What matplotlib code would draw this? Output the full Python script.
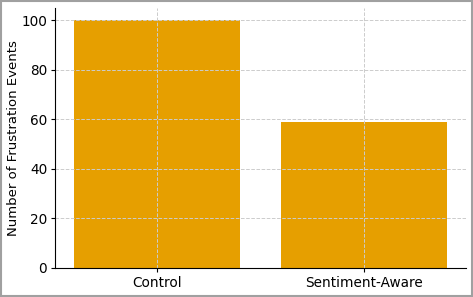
import matplotlib
matplotlib.use("Agg")
from matplotlib import pyplot as plt
from matplotlib.patches import Rectangle

# data
groups = ["Control", "Sentiment-Aware"]
frustration_events = [100, 59]

fig, ax = plt.subplots(figsize=(4.73, 2.97), dpi=100)
fig.subplots_adjust(left=0.116, right=0.985, top=0.973, bottom=0.098)

ax.bar(groups, frustration_events, color="#E69F00", width=0.8)

# labels and grid
ax.set_ylabel("Number of Frustration Events", fontsize=9.5, labelpad=1)
ax.tick_params(labelsize=9.8, length=3, pad=2.5)
ax.grid(True, linestyle="--", color="#cccccc", linewidth=0.7)
ax.spines["top"].set_visible(False)
ax.spines["right"].set_visible(False)

# grey frame round the whole picture
fig.patches.append(Rectangle((0.002, 0.003), 0.995, 0.993, transform=fig.transFigure,
                             fill=False, edgecolor="#a0a0a0", linewidth=1.5))

fig.savefig("out.png", dpi=100)
